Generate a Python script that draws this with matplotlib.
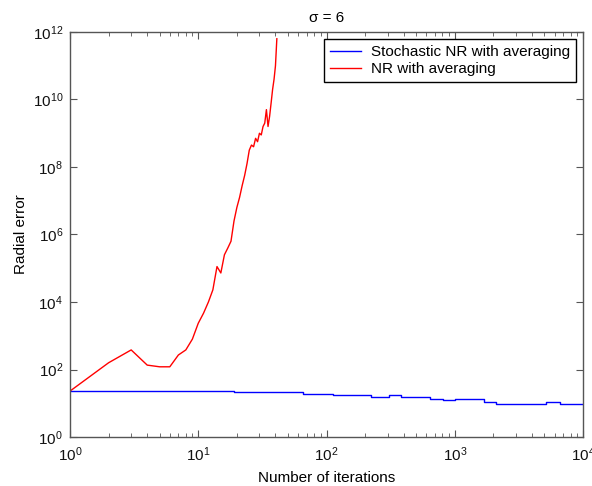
import numpy as np
import matplotlib
matplotlib.use("Agg")
import matplotlib.pyplot as plt
from matplotlib.ticker import LogLocator, NullLocator, LogFormatterMathtext

plt.rcParams['font.family'] = ['Liberation Sans', 'DejaVu Sans']
plt.rcParams['mathtext.fontset'] = 'custom'
plt.rcParams['mathtext.rm'] = 'Liberation Sans'
plt.rcParams['mathtext.it'] = 'Liberation Sans'

# Stochastic NR with averaging: step curve (iteration where level starts, log10 error)
sto_iter = [1, 19, 66, 113, 221, 309, 382, 640, 815, 1000, 1680, 2090, 5190, 6600, 10000]
sto_log_err = [1.36, 1.32, 1.28, 1.24, 1.20, 1.24, 1.19, 1.14, 1.10, 1.12, 1.05, 0.99, 1.03, 0.99, 0.99]

# NR with averaging: one value per iteration (log10 error)
nr_log_err = [1.36, 2.20, 2.58, 2.13, 2.08, 2.08, 2.43, 2.58, 2.90, 3.37,
              3.67, 4.00, 4.36, 5.05, 4.86, 5.40, 5.60, 5.80, 6.40, 6.80,
              7.10, 7.45, 7.75, 8.10, 8.50, 8.65, 8.60, 8.85, 8.75, 9.00,
              8.95, 9.20, 9.30, 9.70, 9.20, 9.50, 9.90, 10.30, 10.60, 11.00,
              11.80]
nr_iter = np.arange(1, len(nr_log_err) + 1)

fig = plt.figure(figsize=(5.92, 4.86), dpi=100)
ax = fig.add_axes([70 / 592, 1 - 437 / 486, 513 / 592, 405 / 486])

ax.plot(sto_iter, 10 ** np.array(sto_log_err), color='#0000ff', lw=1.0,
        drawstyle='steps-post', label='Stochastic NR with averaging')
ax.plot(nr_iter, 10 ** np.array(nr_log_err), color='#ff0000', lw=1.0,
        label='NR with averaging')

ax.set_xscale('log')
ax.set_yscale('log')
ax.set_xlim(1, 1e4)
ax.set_ylim(1, 1e12)
ax.set_yticks([10.0 ** k for k in range(0, 13, 2)])
ax.yaxis.set_minor_locator(NullLocator())
ax.yaxis.set_major_formatter(LogFormatterMathtext())
ax.xaxis.set_minor_locator(LogLocator(base=10, subs=np.arange(2, 10)))

for s in ax.spines.values():
    s.set_color('#555555')
    s.set_linewidth(1.0)
ax.tick_params(which='both', direction='in', top=True, right=True,
               color='#555555', labelsize=11, labelcolor='#111111')
ax.tick_params(which='major', length=5, pad=5)
ax.tick_params(axis='x', which='major', pad=6)
ax.tick_params(which='minor', length=3)

ax.set_xlabel('Number of iterations', fontsize=11, labelpad=5)
ax.set_ylabel('Radial error', fontsize=11, labelpad=3)
ax.set_title('σ = 6', fontsize=11, pad=7)

leg = ax.legend(loc='upper right', bbox_to_anchor=(0.986, 0.983),
                borderaxespad=0, fontsize=11, fancybox=False,
                handlelength=2.0, handletextpad=0.65, borderpad=0.4,
                labelspacing=0.2, framealpha=1)
leg.get_frame().set_edgecolor('black')
leg.get_frame().set_linewidth(1.0)

fig.savefig('out.png', dpi=100)
